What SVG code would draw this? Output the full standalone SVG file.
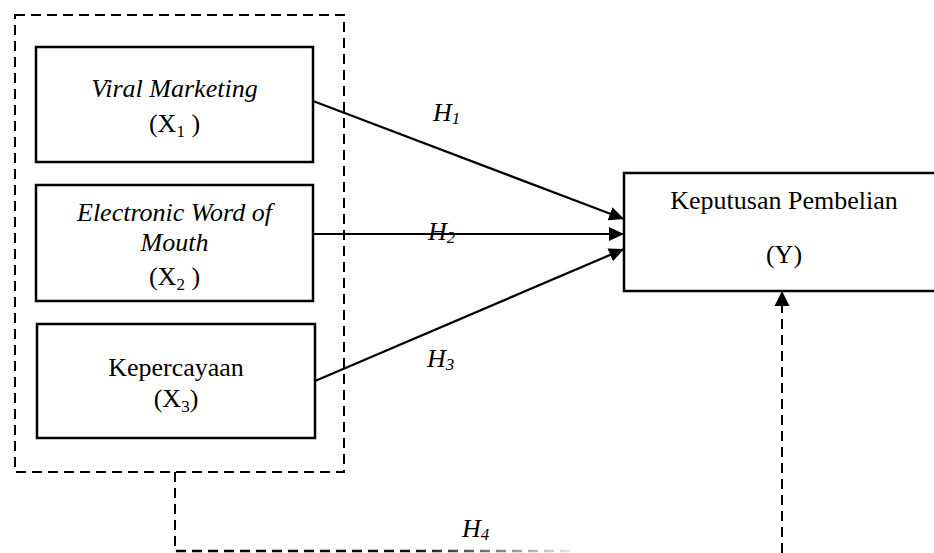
<svg xmlns="http://www.w3.org/2000/svg" width="934" height="553" viewBox="0 0 934 553">
<style>
  .box { fill: #fff; stroke: #000; stroke-width: 2.5; }
  .dash { fill: none; stroke: #000; stroke-width: 2; stroke-dasharray: 10 6; }
  .arrow { fill: none; stroke: #000; stroke-width: 2.2; marker-end: url(#ah); }
  text { font-family: "Liberation Serif", "Times New Roman", serif; font-size: 26px; fill: #000; }
  .c { text-anchor: middle; }
  .it { font-style: italic; }
  .sub { font-size: 17px; }
</style>
<defs>
  <marker id="ah" viewBox="0 0 15 14" refX="15" refY="7" markerWidth="15" markerHeight="14" markerUnits="userSpaceOnUse" orient="auto">
    <path d="M0,0 L15,7 L0,14 Z" fill="#000"/>
  </marker>
  <linearGradient id="fade" gradientUnits="userSpaceOnUse" x1="176" y1="0" x2="572" y2="0">
    <stop offset="0" stop-color="#000"/>
    <stop offset="0.6" stop-color="#111"/>
    <stop offset="1" stop-color="#e8e8e8"/>
  </linearGradient>
</defs>

<g id="group-x">
  <rect class="dash" x="15" y="15" width="329" height="457"/>
</g>

<g id="node-x1">
  <rect class="box" x="36" y="47" width="277" height="115"/>
  <text class="c it" x="174.5" y="97">Viral Marketing</text>
  <text class="c" x="174.5" y="132">(X<tspan class="sub" dy="5">1</tspan><tspan dy="-5"> )</tspan></text>
</g>

<g id="node-x2">
  <rect class="box" x="36" y="185" width="277" height="116"/>
  <text class="c it" x="174.5" y="221">Electronic Word of</text>
  <text class="c it" x="174.5" y="251">Mouth</text>
  <text class="c" x="174.5" y="285">(X<tspan class="sub" dy="5">2</tspan><tspan dy="-5"> )</tspan></text>
</g>

<g id="node-x3">
  <rect class="box" x="37" y="324" width="278" height="114"/>
  <text class="c" x="176" y="376">Kepercayaan</text>
  <text class="c" x="176" y="407">(X<tspan class="sub" dy="5">3</tspan><tspan dy="-5">)</tspan></text>
</g>

<g id="node-y">
  <rect class="box" x="624" y="173" width="320" height="118"/>
  <text class="c" x="784" y="209">Keputusan Pembelian</text>
  <text class="c" x="784" y="263">(Y)</text>
</g>

<g id="connectors">
  <line class="arrow" x1="313" y1="101" x2="624" y2="219"/>
  <line class="arrow" x1="313" y1="234" x2="624" y2="234"/>
  <line class="arrow" x1="315" y1="381" x2="624" y2="249"/>
  <path d="M175,472 V551" class="dash"/>
  <path d="M176,551 H572" fill="none" stroke="url(#fade)" stroke-width="2.5" stroke-dasharray="10 6"/>
  <path d="M782,553 V303" class="dash"/>
  <path d="M782,291 L789.5,306 L774.5,306 Z" fill="#000"/>
</g>

<g id="labels">
  <text class="it" x="433" y="121">H<tspan class="sub" dy="3">1</tspan></text>
  <text class="it" x="428" y="240">H<tspan class="sub" dy="3">2</tspan></text>
  <text class="it" x="427" y="367">H<tspan class="sub" dy="3">3</tspan></text>
  <text class="it" x="462" y="537">H<tspan class="sub" dy="3">4</tspan></text>
</g>
</svg>
